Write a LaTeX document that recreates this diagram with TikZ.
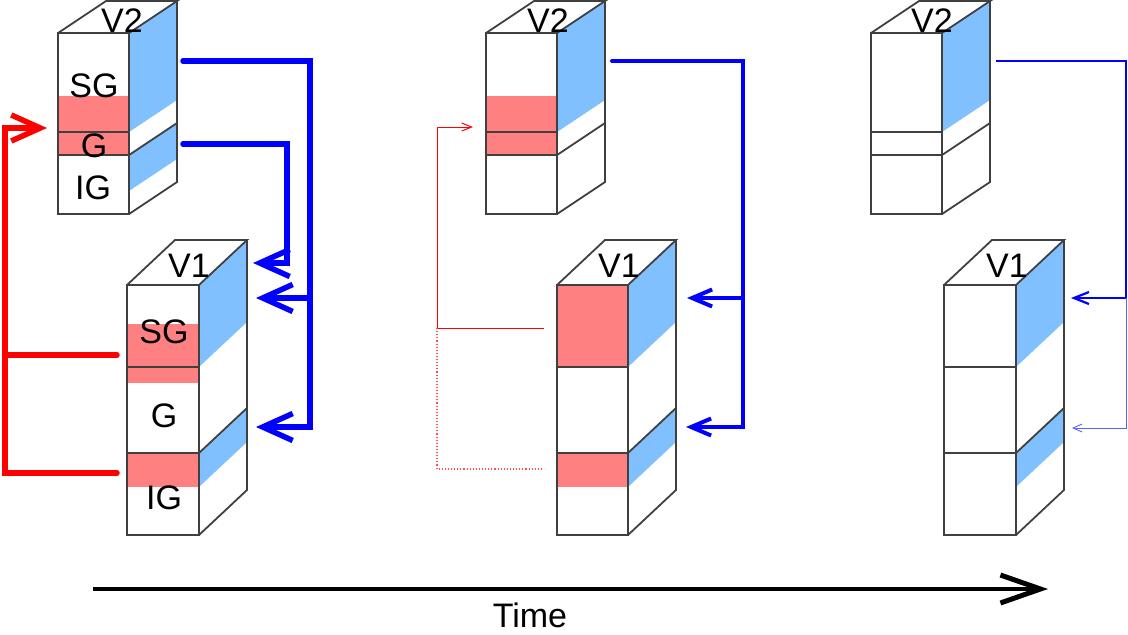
\documentclass[tikz,border=0pt]{standalone}
\usepackage{fontspec}
\setmainfont{Liberation Sans}
\usetikzlibrary{arrows.meta}
\definecolor{sideblue}{RGB}{128,192,255}
\definecolor{frontred}{RGB}{255,128,128}
\definecolor{boxgray}{RGB}{64,64,64}
\definecolor{pureblue}{RGB}{0,0,255}
\definecolor{purered}{RGB}{255,0,0}
\definecolor{paleblue}{RGB}{96,96,255}
\definecolor{palered}{RGB}{255,80,80}
\tikzset{
  outl/.style={draw=boxgray, line width=1.8pt, line join=miter},
  lbl/.style={inner sep=0pt, anchor=base, font=\fontsize{34}{40}\selectfont},
  bluefill/.style={fill=sideblue},
  redfill/.style={fill=frontred},
  bigblue/.style={draw=pureblue, line width=5.5pt, line cap=round, line join=miter,
    -{Straight Barb[length=30pt,width=27pt,sharp]}},
  midblue/.style={draw=pureblue, line width=4pt, line cap=round, line join=miter,
    -{Straight Barb[length=20pt,width=17pt,sharp]}},
  smallblue/.style={draw=pureblue, line width=2.2pt, line join=miter,
    -{Straight Barb[length=15pt,width=12pt,sharp]}},
  thinblue/.style={draw=paleblue, line width=0.9pt, line join=miter,
    -{Straight Barb[length=9pt,width=8pt,sharp]}},
  bigred/.style={draw=purered, line width=5.5pt, line cap=round, line join=miter,
    -{Straight Barb[length=29pt,width=26pt,sharp]}},
  thinred/.style={draw=purered, line width=1pt, line join=miter,
    -{Straight Barb[length=10pt,width=8pt,sharp]}},
  dotred/.style={draw=palered, line width=1.1pt, dash pattern=on 1.1pt off 2pt},
  timearrow/.style={draw=black, line width=4pt,
    -{Straight Barb[length=40pt,width=28pt,line width=5pt,sharp]}}
}
% V2 block: left x, right x
\newcommand\boxVtwo[2]{%
  \fill[bluefill] (#2,33) -- ({#2+48},1) -- ({#2+48},100) -- (#2,132) -- cycle;
  \draw[outl] (#1,33) rectangle (#2,214);
  \draw[outl] (#1,132) -- (#2,132);
  \draw[outl] (#1,155) -- (#2,155);
  \draw[outl] (#1,33) -- ({#1+48},1) -- ({#2+48},1) -- (#2,33);
  \draw[outl] ({#2+48},1) -- ({#2+48},182) -- (#2,214);
  \draw[outl] (#2,155) -- ({#2+48},123);
}
% V1 block: left x, right x
\newcommand\boxVone[2]{%
  \fill[bluefill] (#2,285) -- ({#2+48},240) -- ({#2+48},322) -- (#2,367) -- cycle;
  \fill[bluefill] (#2,453) -- ({#2+48},408) -- ({#2+48},442) -- (#2,487) -- cycle;
  \draw[outl] (#1,285) rectangle (#2,535);
  \draw[outl] (#1,367) -- (#2,367);
  \draw[outl] (#1,453) -- (#2,453);
  \draw[outl] (#1,285) -- ({#1+48},240) -- ({#2+48},240) -- (#2,285);
  \draw[outl] ({#2+48},240) -- ({#2+48},490) -- (#2,535);
  \draw[outl] (#2,453) -- ({#2+48},408);
}
\begin{document}
\begin{tikzpicture}[x=1pt,y=-1pt]
\useasboundingbox (0,0) rectangle (1128,635);

% ---------- column 1 ----------
\fill[redfill] (58,96) rectangle (129,155);
\fill[bluefill] (129,155) -- (177,123) -- (177,159) -- (129,191) -- cycle;
\boxVtwo{58}{129}
\fill[redfill] (127,324) rectangle (199,383);
\fill[redfill] (127,453) rectangle (199,487);
\boxVone{127}{199}

\node[lbl] (c1v2) at (122,32) {V2};
\node[lbl] (c1sg2) at (94,97) {SG};
\node[lbl] (c1g2) at (94,157) {G};
\node[lbl] (c1ig2) at (93,199) {IG};
\node[lbl] (c1v1) at (189,277) {V1};
\node[lbl] (c1sg1) at (164,343) {SG};
\node[lbl] (c1g1) at (164,427) {G};
\node[lbl] (c1ig1) at (164,509) {IG};

% ---------- column 2 ----------
\fill[redfill] (486,96) rectangle (557,155);
\boxVtwo{486}{557}
\fill[redfill] (557,285) rectangle (628,367);
\fill[redfill] (557,453) rectangle (628,487);
\boxVone{557}{628}
\node[lbl] (c2v2) at (548,32) {V2};
\node[lbl] (c2v1) at (619,277) {V1};

% ---------- column 3 ----------
\boxVtwo{871}{942}
\boxVone{944}{1016}
\node[lbl] (c3v2) at (932,32) {V2};
\node[lbl] (c3v1) at (1007,277) {V1};

% ---------- connector end points ----------
\coordinate (a1s) at (183,61);
\coordinate (a1c) at (310,427);
\coordinate (a1j) at (310,298);
\coordinate (a1t) at (256,427);
\coordinate (a1u) at (256,298);
\coordinate (a2s) at (183,144);
\coordinate (a2c) at (287,263);
\coordinate (a2t) at (253,263);
\coordinate (r1s) at (117,473);
\coordinate (r1m) at (117,355);
\coordinate (r1j) at (5,355);
\coordinate (r1c) at (5,128);
\coordinate (r1t) at (47,128);

\coordinate (b1s) at (612,61);
\coordinate (b1c) at (743,427);
\coordinate (b1j) at (743,298);
\coordinate (b1t) at (686,427);
\coordinate (b1u) at (687,298);
\coordinate (q1s) at (544,328);
\coordinate (q1j) at (437,328);
\coordinate (q1t) at (473,127);
\coordinate (q2s) at (544,469);

\coordinate (d1s) at (996,61);
\coordinate (d1j) at (1126,298);
\coordinate (d1u) at (1071,298);
\coordinate (d1t) at (1072,428);

\coordinate (ts) at (93,589);
\coordinate (te) at (1048,589);

% ---------- column 1 arrows ----------
\draw[bigblue] (a1s) -| (a1c) -- (a1t);
\draw[bigblue] (a1j) -- (a1u);
\draw[bigblue] (a2s) -| (a2c) -- (a2t);
\draw[bigred] (r1s) -| (r1c) -- (r1t);
\draw[draw=purered, line width=5.5pt, line cap=round] (r1m) -- (r1j);

% ---------- column 2 arrows ----------
\draw[midblue] (b1s) -| (b1c) -- (b1t);
\draw[midblue] (b1j) -- (b1u);
\draw[thinred] (q1s) -- (q1j) |- (q1t);
\draw[dotred] (q1j) |- (q2s);

% ---------- column 3 arrows ----------
\draw[smallblue] (d1s) -| (d1j) -- (d1u);
\draw[thinblue] (d1j) |- (d1t);

% ---------- time ----------
\draw[timearrow] (ts) -- (te);
\node[lbl] (time) at (530,627) {Time};
\end{tikzpicture}
\end{document}
